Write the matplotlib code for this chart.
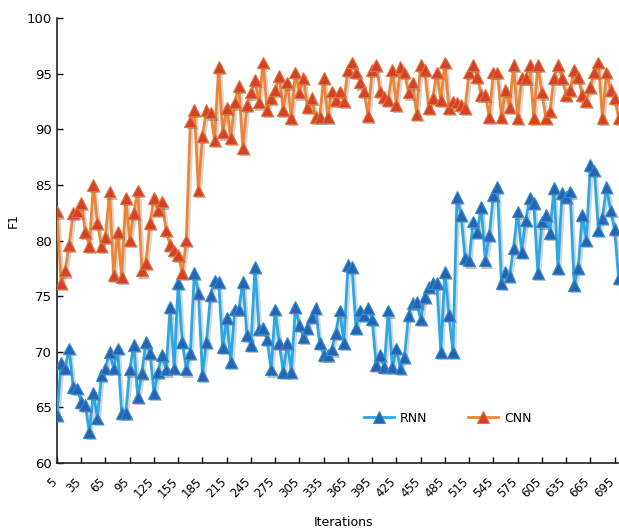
import matplotlib
matplotlib.use("Agg")
import matplotlib.pyplot as plt
import matplotlib.patheffects as pe
import matplotlib.transforms as mtransforms

iterations = list(range(5, 705, 5))

rnn = [64.3, 69.0, 68.5, 70.3, 66.8, 66.7, 65.5, 65.2, 62.8, 66.3,
       64.0, 67.9, 68.5, 70.0, 68.5, 70.3, 64.5, 64.5, 68.4, 70.6,
       65.9, 68.1, 70.9, 69.9, 66.3, 68.2, 69.7, 68.4, 74.0, 68.5,
       76.2, 70.9, 68.4, 69.9, 77.1, 75.3, 67.9, 70.9, 75.1, 76.4,
       76.3, 70.4, 73.0, 69.1, 73.8, 73.8, 76.3, 71.5, 70.6, 77.6,
       72.0, 72.1, 71.1, 68.4, 73.8, 70.8, 68.2, 70.8, 68.2, 74.0,
       72.4, 71.3, 72.1, 73.1, 73.9, 70.8, 69.7, 69.7, 70.2, 71.7,
       73.7, 70.8, 77.8, 77.6, 72.1, 73.7, 73.3, 73.9, 72.9, 68.8,
       69.7, 68.6, 73.7, 68.6, 70.3, 68.5, 69.5, 73.3, 74.4, 74.5,
       72.9, 74.9, 75.8, 76.2, 76.2, 70.0, 77.2, 73.3, 70.0, 83.9,
       82.3, 78.4, 78.2, 81.7, 80.8, 83.0, 78.2, 80.5, 84.1, 84.8,
       76.2, 77.2, 76.8, 79.3, 82.6, 79.0, 81.8, 83.8, 83.4, 77.1,
       81.7, 82.3, 80.7, 84.7, 77.5, 84.3, 83.9, 84.4, 76.0, 77.5,
       82.3, 80.0, 86.8, 86.3, 80.9, 82.0, 84.8, 82.7, 81.0, 76.6]

cnn = [82.6, 76.2, 77.3, 79.6, 82.5, 82.6, 83.4, 80.8, 79.5, 85.0,
       81.6, 79.5, 80.3, 84.4, 76.9, 80.8, 76.7, 83.8, 80.0, 82.5,
       84.5, 77.3, 78.0, 81.6, 83.8, 82.7, 83.5, 80.9, 79.6, 79.1,
       78.7, 77.1, 80.0, 90.7, 91.7, 84.5, 89.4, 91.7, 91.5, 89.0,
       95.6, 89.7, 91.9, 89.2, 92.4, 93.9, 88.3, 92.2, 93.3, 94.4,
       92.4, 96.0, 91.7, 92.8, 93.5, 94.8, 91.7, 94.2, 91.0, 95.1,
       93.3, 94.6, 92.0, 92.8, 91.1, 91.1, 94.6, 91.1, 93.4, 92.6,
       93.4, 92.5, 95.3, 96.0, 95.1, 94.2, 93.4, 91.2, 95.3, 95.8,
       93.4, 92.9, 92.6, 95.3, 92.2, 95.6, 95.1, 93.3, 94.2, 91.4,
       95.8, 95.3, 91.9, 92.8, 95.1, 92.6, 96.0, 91.9, 92.5, 92.4,
       92.2, 91.9, 95.1, 95.8, 94.7, 93.1, 93.1, 91.1, 95.1, 95.1,
       91.1, 93.5, 92.0, 95.8, 91.0, 94.6, 94.6, 95.8, 91.0, 95.8,
       93.3, 91.0, 91.6, 94.6, 95.8, 94.6, 93.1, 93.5, 95.3, 94.7,
       93.1, 92.5, 93.8, 95.1, 96.0, 91.0, 95.1, 93.5, 92.8, 91.0]

xtick_labels = list(range(5, 700, 30))
yticks = list(range(60, 101, 5))

fig = plt.figure(figsize=(6.19, 5.30), dpi=100)
ax = fig.add_axes([57/619, 1 - 463/530, 1 - 57/619, (463 - 18)/530])

line_shadow = [pe.SimpleLineShadow(offset=(1.5, -1.5), shadow_color='#888888', alpha=0.35), pe.Normal()]
mark_shadow = [pe.SimplePatchShadow(offset=(1.5, -1.5), shadow_rgbFace='#777777', alpha=0.45), pe.Normal()]

series = [
    ('RNN', rnn, '#28A8E6', '#2763B0', '#2C8FD6'),
    ('CNN', cnn, '#EF8534', '#D2412A', '#E8702E'),
]
for name, vals, lc, mfc, mec in series:
    ax.plot(iterations, vals, color=lc, lw=2.0, path_effects=line_shadow, zorder=3)
    ax.plot(iterations, vals, linestyle='none', marker='^', markersize=8.5,
            markerfacecolor=mfc, markeredgecolor=mec, markeredgewidth=0.8,
            path_effects=mark_shadow, zorder=4)
    ax.plot([], [], color=lc, lw=2.0, marker='^', markersize=8.5,
            markerfacecolor=mfc, markeredgecolor=mec, markeredgewidth=0.8, label=name)

ax.set_xlim(5, 700.5)
ax.set_ylim(60, 100)
ax.set_yticks(yticks)
ax.set_xticks(xtick_labels)
ax.tick_params(axis='y', labelsize=9.5, direction='in', length=4, width=1)
ax.tick_params(axis='x', direction='in', length=4, width=1, pad=6)
ax.set_xticklabels([str(v) for v in xtick_labels], rotation=45, ha='right',
                   rotation_mode='anchor', fontsize=8.5)
offset = mtransforms.ScaledTranslation(-7/100, -4/100, fig.dpi_scale_trans)
for lab in ax.get_xticklabels():
    lab.set_transform(lab.get_transform() + offset)

for s in ['top', 'right']:
    ax.spines[s].set_visible(False)
for s in ['left', 'bottom']:
    ax.spines[s].set_linewidth(1.2)
    ax.spines[s].set_color('#222222')

ax.set_ylabel('F1', fontsize=9)
ax.yaxis.set_label_coords(-0.066, 0.545)
ax.set_xlabel('Iterations', fontsize=9)
ax.xaxis.set_label_coords(0.51, -0.118)

ax.legend(loc='center', bbox_to_anchor=(0.695, 0.101), ncol=2, frameon=False,
          fontsize=9, handlelength=2.4, columnspacing=3.2, handletextpad=0.5)

fig.savefig('out.png', dpi=100)
